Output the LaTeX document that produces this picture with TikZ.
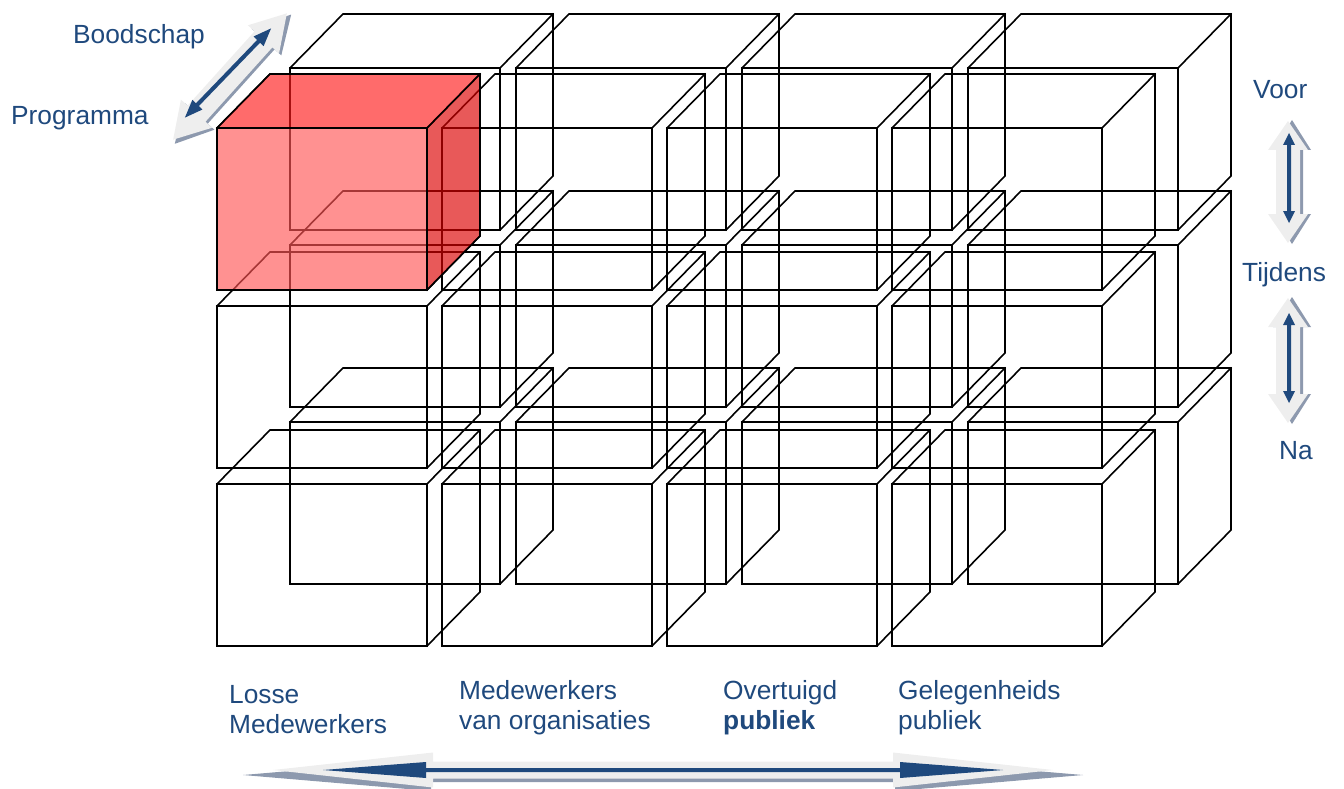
\documentclass[tikz,border=0pt]{standalone}
\usepackage{fontspec}
\setmainfont{Liberation Sans}
\definecolor{txtblue}{RGB}{31,73,125}
\definecolor{arrblue}{RGB}{31,73,125}
\definecolor{lightarr}{RGB}{238,238,238}
\definecolor{shadowarr}{RGB}{141,153,174}
\definecolor{redfront}{RGB}{255,86,86}
\definecolor{redtop}{RGB}{255,27,27}
\definecolor{redside}{RGB}{220,0,0}
\tikzset{
  edge/.style={line width=1.6pt, line join=miter, line cap=rect},
  lbl/.style={anchor=base west, inner sep=0pt, text=txtblue, font=\fontsize{26.3}{30}\selectfont},
}
% wireframe cube: front face top-left (x,y), width, height
\newcommand{\cubeat}[4]{%
  \draw[edge] (#1,#2) rectangle ++(#3,#4);
  \draw[edge] (#1,#2) -- ++(53,-54) -- ++(#3,0) -- ++(0,#4) -- ++(-53,54);
  \draw[edge] (#1+#3,#2) -- ++(53,-54);
}
% double arrow outline along local x: half length, head length, head half width, shaft half width, perpendicular offset
\newcommand{\arrowpath}[5]{%
  (-#1,#5) -- (-#1+#2,#5-#3) -- (-#1+#2,#5-#4) -- (#1-#2,#5-#4) -- (#1-#2,#5-#3) -- (#1,#5)
  -- (#1-#2,#5+#3) -- (#1-#2,#5+#4) -- (-#1+#2,#5+#4) -- (-#1+#2,#5+#3) -- cycle}
\begin{document}
\begin{tikzpicture}[x=1pt,y=-1pt]
\useasboundingbox (0,0) rectangle (1344,789);

% back layer of cubes
\foreach \cx in {290,516,742,968}{
  \foreach \cy in {68,245,422}{
    \cubeat{\cx}{\cy}{210}{162}
  }
}
% front layer of cubes
\foreach \cx in {217,442,667,892}{
  \foreach \cy in {128,306,484}{
    \cubeat{\cx}{\cy}{210}{162}
  }
}
% highlighted red cube
\fill[redfront, fill opacity=0.65] (217,128) rectangle ++(210,162);
\fill[redtop, fill opacity=0.65] (217,128) -- ++(53,-54) -- ++(210,0) -- ++(-53,54) -- cycle;
\fill[redside, fill opacity=0.65] (427,128) -- ++(53,-54) -- ++(0,162) -- ++(-53,54) -- cycle;
\cubeat{217}{128}{210}{162}

% horizontal double arrow
\begin{scope}[shift={(663,770)}]
  \fill[shadowarr] \arrowpath{420}{188}{16}{7}{5};
  \fill[lightarr] \arrowpath{390}{160}{17.5}{8.5}{0};
  \fill[arrblue] \arrowpath{340}{103}{8}{2}{0};
\end{scope}

% diagonal double arrow
\begin{scope}[shift={(230,76.5)}, rotate=48]
  \fill[shadowarr] \arrowpath{87}{37}{20}{11}{4};
  \fill[lightarr] \arrowpath{85}{35}{21}{12}{0};
\end{scope}
\begin{scope}[shift={(228,73)}, rotate=46]
  \fill[arrblue] \arrowpath{62}{18}{7}{2}{0};
\end{scope}

% vertical double arrow 1
\begin{scope}[shift={(1288,182)}, rotate=90]
  \fill[shadowarr] \arrowpath{62}{30}{19}{11}{4};
  \fill[lightarr] \arrowpath{61}{29}{20}{12}{0};
\end{scope}
\begin{scope}[shift={(1289,178)}, rotate=90]
  \fill[arrblue] \arrowpath{45}{12}{6}{2}{0};
\end{scope}

% vertical double arrow 2
\begin{scope}[shift={(1288,360.5)}, rotate=90]
  \fill[shadowarr] \arrowpath{63.5}{30}{19}{11}{4};
  \fill[lightarr] \arrowpath{62.5}{29}{20}{12}{0};
\end{scope}
\begin{scope}[shift={(1289,358)}, rotate=90]
  \fill[arrblue] \arrowpath{45}{12}{6}{2}{0};
\end{scope}

% labels
\node[lbl] (boodschap) at (73,44) {Boodschap};
\node[lbl] (programma) at (11,125) {Programma};
\node[lbl] (voor) at (1253,99) {Voor};
\node[lbl] (tijdens) at (1242,281) {Tijdens};
\node[lbl] (na) at (1279,459) {Na};
\node[lbl] (c1a) at (229,703) {Losse};
\node[lbl] (c1b) at (229,733) {Medewerkers};
\node[lbl] (c2a) at (459,699) {Medewerkers};
\node[lbl] (c2b) at (459,729) {van organisaties};
\node[lbl] (c3a) at (723,699) {Overtuigd};
\node[lbl] (c3b) at (723,729) {\bfseries publiek};
\node[lbl] (c4a) at (898,699) {Gelegenheids};
\node[lbl] (c4b) at (898,729) {publiek};
\end{tikzpicture}
\end{document}
